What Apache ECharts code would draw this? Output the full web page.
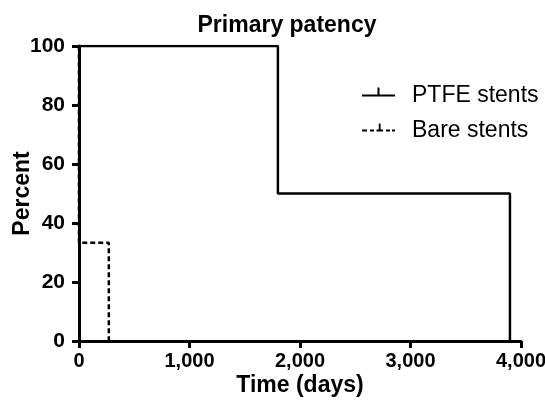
<!DOCTYPE html>
<html>
<head>
<meta charset="utf-8">
<script src="https://cdn.jsdelivr.net/npm/echarts@6/dist/echarts.min.js"></script>
<style>
html,body{margin:0;padding:0;background:#fff;}
#chart{width:545px;height:405px;}
</style>
</head>
<body>
<div id="chart"></div>
<script>
// Kaplan-Meier step data (time in days, percent)
var ptfeTimes = [0, 1800, 3900];
var ptfeSurvival = [100, 50, 0];
var bareTimes = [0, 0, 270];
var bareSurvival = [100, 33.3, 0];
var xTicks = [0, 1000, 2000, 3000, 4000];
var yTicks = [0, 20, 40, 60, 80, 100];
var seriesNames = ['PTFE stents', 'Bare stents'];

function pairs(xs, ys) {
  return xs.map(function (x, i) { return [x, ys[i]]; });
}

var solidIcon = 'path://M0,7 L33,7 L33,9 L0,9 Z M15.5,0 L17.5,0 L17.5,7 L15.5,7 Z M45,16 L45.01,16 L45.01,15.99 Z';
var dashIcon = 'path://M0,0 L0.01,0 L0.01,0.01 Z M0,7 L5,7 L5,9 L0,9 Z M8,7 L12,7 L12,9 L8,9 Z M14.5,7 L21,7 L21,9 L14.5,9 Z M16.8,1 L18.6,1 L18.6,7 L16.8,7 Z M24,7 L28,7 L28,9 L24,9 Z M30,7 L33,7 L33,9 L30,9 Z M45,16 L45.01,16 L45.01,15.99 Z';

var chart = echarts.init(document.getElementById('chart'), null, {renderer: 'canvas'});
var font = 'Liberation Sans, Arial, sans-serif';
chart.setOption({
  backgroundColor: '#fff',
  animation: false,
  title: {
    text: 'Primary patency',
    left: 287, top: 14, padding: 0,
    textAlign: 'center',
    textStyle: {fontFamily: font, fontWeight: 'bold', fontSize: 23, color: '#000'}
  },
  legend: {
    orient: 'vertical',
    left: 362, top: 84, padding: 0,
    itemGap: 12,
    itemWidth: 45, itemHeight: 16,
    itemStyle: {borderWidth: 0, color: '#000'},
    textStyle: {fontFamily: font, fontSize: 23, color: '#000'},
    data: [
      {name: seriesNames[0], icon: solidIcon},
      {name: seriesNames[1], icon: dashIcon}
    ]
  },
  grid: {left: 79, right: 24, top: 46, bottom: 64, containLabel: false, outerBoundsMode: 'none'},
  xAxis: {
    type: 'value',
    min: xTicks[0], max: xTicks[xTicks.length - 1], interval: 1000,
    name: 'Time (days)', nameLocation: 'middle', nameGap: 33, nameMoveOverlap: false,
    nameTextStyle: {fontFamily: font, fontWeight: 'bold', fontSize: 23, color: '#000'},
    axisLine: {show: true, onZero: false, lineStyle: {color: '#000', width: 3}},
    axisTick: {show: true, length: 7, lineStyle: {color: '#000', width: 3}},
    axisLabel: {
      margin: 10, color: '#000', fontFamily: font, fontWeight: 'bold', fontSize: 20,
      formatter: function (v) { return v.toLocaleString('en-US'); }
    },
    splitLine: {show: false}
  },
  yAxis: {
    type: 'value',
    min: yTicks[0], max: yTicks[yTicks.length - 1], interval: 20,
    name: 'Percent', nameLocation: 'middle', nameGap: 45, nameMoveOverlap: false,
    nameTextStyle: {fontFamily: font, fontWeight: 'bold', fontSize: 23, color: '#000'},
    axisLine: {show: true, onZero: false, lineStyle: {color: '#000', width: 3}},
    axisTick: {show: true, length: 7, lineStyle: {color: '#000', width: 3}},
    axisLabel: {margin: 14, color: '#000', fontFamily: font, fontWeight: 'bold', fontSize: 21},
    splitLine: {show: false}
  },
  series: [
    {
      name: seriesNames[0], type: 'line', step: 'end',
      data: pairs(ptfeTimes, ptfeSurvival),
      showSymbol: false, symbol: 'none',
      lineStyle: {color: '#000', width: 2.5, type: 'solid'},
      itemStyle: {color: '#000'}, z: 3
    },
    {
      name: seriesNames[1], type: 'line', step: 'end',
      data: pairs(bareTimes, bareSurvival),
      showSymbol: false, symbol: 'none',
      lineStyle: {color: '#000', width: 2.5, type: [5, 3]},
      itemStyle: {color: '#000'}, z: 4
    }
  ]
});
</script>
</body>
</html>
